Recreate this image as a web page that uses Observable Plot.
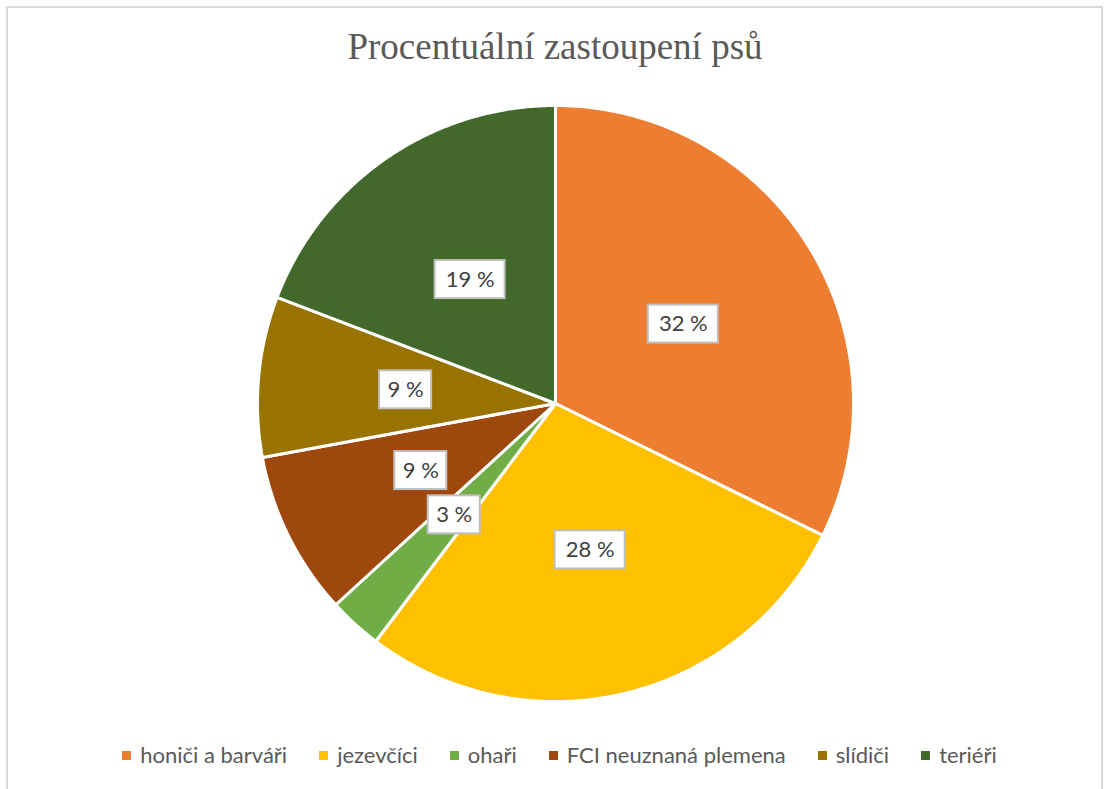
<!DOCTYPE html>
<html>
<head>
<meta charset="utf-8">
<script src="https://cdn.jsdelivr.net/npm/d3@7"></script>
<script src="https://cdn.jsdelivr.net/npm/@observablehq/plot@0.6"></script>
<style>
  html, body { margin: 0; padding: 0; background: #fff; }
  body { width: 1105px; height: 789px; overflow: hidden; position: relative; font-family: Lato, "Open Sans", sans-serif; }
  #frame { position: absolute; left: 6px; top: 6px; width: 1097px; height: 800px; border: 2px solid #d9d9d9; box-sizing: border-box; }
  #title { position: absolute; top: 28px; left: 0; width: 1110px; text-align: center; font: 37px/1 "Liberation Serif", serif; color: #595959; white-space: nowrap; }
  #chart { position: absolute; top: 95px; left: 0; }
  #legend { position: absolute; top: 741px; left: 7px; width: 1105px; display: flex; justify-content: center; align-items: center; font: 22px/28px Lato, sans-serif; color: #595959; white-space: nowrap; }
  #legend .item { display: flex; align-items: center; margin: 0 16px; }
  #legend .sw { width: 9px; height: 9px; margin-right: 9px; }
</style>
</head>
<body>
<div id="frame"></div>
<div id="title">Procentuální zastoupení psů</div>
<div id="chart"></div>
<div id="legend"></div>
<script>
const categories = ["honiči a barváři", "jezevčíci", "ohaři", "FCI neuznaná plemena", "slídiči", "teriéři"];
const values = [32.3, 28.0, 2.9, 8.9, 8.7, 19.2];
const labels = ["32 %", "28 %", "3 %", "9 %", "9 %", "19 %"];
const colors = ["#ED7D31", "#FFC000", "#70AD47", "#9E480E", "#997300", "#43682B"];

const W = 1105, H = 616, R = 298, CX = 555, CY = 308;

const arcs = d3.pie().sort(null).value(d => d.value)(categories.map((c, i) => ({cat: c, value: values[i], label: labels[i]})));

const slicePts = [];
arcs.forEach(a => {
  const n = Math.max(2, Math.ceil((a.endAngle - a.startAngle) / (2 * Math.PI) * 720));
  slicePts.push({cat: a.data.cat, x: 0, y: 0});
  for (let k = 0; k <= n; k++) {
    const t = a.startAngle + (a.endAngle - a.startAngle) * k / n;
    slicePts.push({cat: a.data.cat, x: Math.sin(t), y: Math.cos(t)});
  }
  slicePts.push({cat: a.data.cat, x: 0, y: 0});
});

const lr = 0.505;
const labelData = arcs.map(a => {
  const m = (a.startAngle + a.endAngle) / 2;
  const hw = (a.data.label.length > 3 ? 35 : 26) / R;
  const hh = 19 / R;
  const x = lr * Math.sin(m), y = lr * Math.cos(m);
  return {label: a.data.label, x, y, x1: x - hw, x2: x + hw, y1: y - hh, y2: y + hh};
});

const chart = Plot.plot({
  width: W, height: H,
  marginLeft: 0, marginRight: 0, marginTop: 0, marginBottom: 0,
  x: {domain: [-CX / R, (W - CX) / R], axis: null},
  y: {domain: [-(H - CY) / R, CY / R], axis: null},
  color: {domain: categories, range: colors},
  style: {fontFamily: "Lato, sans-serif", background: "transparent"},
  marks: [
    Plot.line(slicePts, {x: "x", y: "y", z: "cat", fill: "cat", stroke: "#fff", strokeWidth: 3, strokeLinejoin: "miter", curve: "linear"}),
    Plot.rect(labelData, {x1: "x1", x2: "x2", y1: "y1", y2: "y2", fill: "#fff", stroke: "#bfbfbf", strokeWidth: 2}),
    Plot.text(labelData, {x: "x", y: "y", text: "label", fontSize: 22, fill: "#404040", fontFamily: "Lato, sans-serif"})
  ]
});
document.getElementById("chart").appendChild(chart);

const legend = document.getElementById("legend");
categories.forEach((c, i) => {
  const it = document.createElement("div");
  it.className = "item";
  const sw = document.createElement("span");
  sw.className = "sw";
  sw.style.background = colors[i];
  const tx = document.createElement("span");
  tx.textContent = c;
  it.appendChild(sw); it.appendChild(tx);
  legend.appendChild(it);
});
</script>
</body>
</html>
